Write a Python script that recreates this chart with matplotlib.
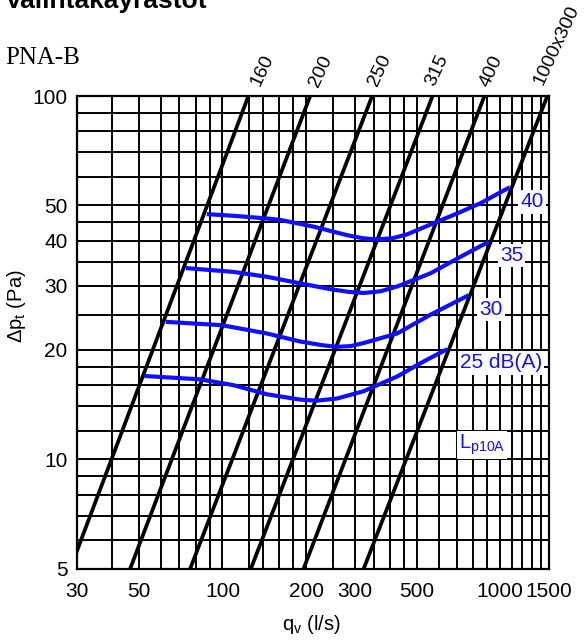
import numpy as np
import matplotlib
matplotlib.use('Agg')
import matplotlib.pyplot as plt
from matplotlib.ticker import FixedLocator, FixedFormatter, NullFormatter

plt.rcParams['font.family'] = ['Liberation Sans', 'DejaVu Sans']
plt.rcParams['mathtext.fontset'] = 'custom'
plt.rcParams['mathtext.rm'] = 'Liberation Sans'
plt.rcParams['mathtext.it'] = 'Liberation Sans:italic'
plt.rcParams['mathtext.bf'] = 'Liberation Sans:bold'

# ---------------- data ----------------
x_tick_values = [30, 50, 100, 200, 300, 500, 1000, 1500]
y_tick_values = [5, 10, 20, 30, 40, 50, 100]
x_grid_values = [30, 40, 50, 60, 70, 80, 90, 100, 125, 140, 160, 180, 200, 250,
                 300, 350, 400, 450, 500, 600, 700, 800, 900, 1000, 1100, 1200,
                 1300, 1400, 1500]
y_grid_values = [5, 6, 7, 8, 9, 10, 12, 14, 16, 18, 20, 25, 30, 35, 40, 45, 50,
                 60, 70, 80, 90, 100]

duct_labels = ['160', '200', '250', '315', '400', '1000x300']
duct_q_at_5pa = [28.3, 46.5, 76.5, 126.6, 196, 322.6]
duct_q_at_100pa = [124, 207, 346, 571, 878, 1479]

q_40 = [87.8, 110, 140.6, 161.5, 212.9, 281, 320, 360, 410, 462, 566, 700, 850, 1084]
dp_40 = [47.3, 46.8, 46.1, 45.6, 43.7, 41.4, 40.6, 40.3, 40.6, 41.6, 44.4, 47.5, 50.7, 56.1]
q_35 = [73.8, 109.6, 144.6, 190.6, 244.6, 285, 322.6, 370, 425.5, 561, 740, 910]
dp_35 = [33.6, 32.8, 31.8, 30.5, 29.4, 28.9, 28.7, 29.0, 29.9, 32.5, 36.5, 39.7]
q_30 = [62.5, 99.5, 144.6, 190.6, 230, 258.5, 290, 322.6, 425.5, 561, 771]
dp_30 = [23.9, 23.4, 22.2, 21.1, 20.6, 20.4, 20.5, 20.9, 22.2, 25.0, 28.3]
q_25 = [52.3, 83.1, 109.6, 144.6, 190.6, 217.7, 258.5, 322.6, 425.5, 530.7, 644.5]
dp_25 = [16.96, 16.6, 16.0, 15.1, 14.6, 14.5, 14.7, 15.4, 16.9, 18.6, 20.1]

curve_labels = ['40', '35', '30', '25 dB(A)']

# ---------------- figure ----------------
W, H = 585, 642
fig = plt.figure(figsize=(W / 100, H / 100), dpi=100)
L, R, T, B = 77.3, 549.0, 96.0, 568.7
ax = fig.add_axes([L / W, (H - B) / H, (R - L) / W, (B - T) / H])

def fx(px):
    return px / W

def fy(py):
    return 1 - py / H

ax.set_xscale('log')
ax.set_yscale('log')
ax.set_xlim(30, 1500)
ax.set_ylim(5, 100)

minor_x = [v for v in x_grid_values if v not in x_tick_values]
minor_y = [v for v in y_grid_values if v not in y_tick_values]
ax.xaxis.set_major_locator(FixedLocator(x_tick_values))
ax.xaxis.set_major_formatter(FixedFormatter([str(v) for v in x_tick_values]))
ax.xaxis.set_minor_locator(FixedLocator(minor_x))
ax.xaxis.set_minor_formatter(NullFormatter())
ax.yaxis.set_major_locator(FixedLocator(y_tick_values))
ax.yaxis.set_major_formatter(FixedFormatter([str(v) for v in y_tick_values]))
ax.yaxis.set_minor_locator(FixedLocator(minor_y))
ax.yaxis.set_minor_formatter(NullFormatter())

ax.tick_params(axis='both', which='both', length=0, labelsize=15)
ax.tick_params(axis='x', pad=9.5)
ax.tick_params(axis='y', pad=7)
ax.grid(True, which='both', color='black', linewidth=1.4)
ax.set_axisbelow(True)
for s in ax.spines.values():
    s.set_linewidth(1.6)
    s.set_color('black')

# duct lines
for q5, q100 in zip(duct_q_at_5pa, duct_q_at_100pa):
    ax.plot([q5, q100], [5, 100], color='black', linewidth=2.7,
            solid_capstyle='butt', zorder=3)

# sound curves
blue = '#1010ff'
for q, dp in [(q_40, dp_40), (q_35, dp_35), (q_30, dp_30), (q_25, dp_25)]:
    ax.plot(q, dp, color=blue, linewidth=3.0, solid_capstyle='butt',
            solid_joinstyle='round', zorder=4)

# curve labels
box = dict(facecolor='white', edgecolor='none', pad=1.5)
label_pos = [(532, 202), (511.5, 255.5), (491, 309.5), (501, 363)]
for txt, (px, py) in zip(curve_labels, label_pos):
    fig.text(fx(px), fy(py), txt, color=blue, fontsize=15,
             ha='center', va='center', bbox=box, zorder=6)
fig.text(fx(482), fy(445), r'L$_\mathrm{p10A}$', color=blue, fontsize=14.5,
         ha='center', va='center', bbox=box, zorder=6)

# duct labels
duct_label_pos = [(262, 70), (321, 71), (380, 70), (437, 70), (491, 71), (557, 45)]
for txt, (px, py) in zip(duct_labels, duct_label_pos):
    fig.text(fx(px), fy(py), txt, fontsize=14, rotation=65,
             ha='center', va='center')

# axis labels
fig.text(fx(311), fy(624), r'q$_\mathrm{v}$ (l/s)', fontsize=14.5,
         ha='center', va='center')
fig.text(fx(16), fy(306), r'$\Delta$p$_\mathrm{t}$ (Pa)', fontsize=14.5,
         rotation=90, ha='center', va='center')

# titles
fig.text(fx(5), fy(8), 'Valintakäyrästöt', fontsize=19, fontweight='bold',
         ha='left', va='baseline')
fig.text(fx(5), fy(58), 'PNA-B', fontsize=18, family='Liberation Serif',
         ha='left', va='center')

fig.savefig('out.png', dpi=100)
